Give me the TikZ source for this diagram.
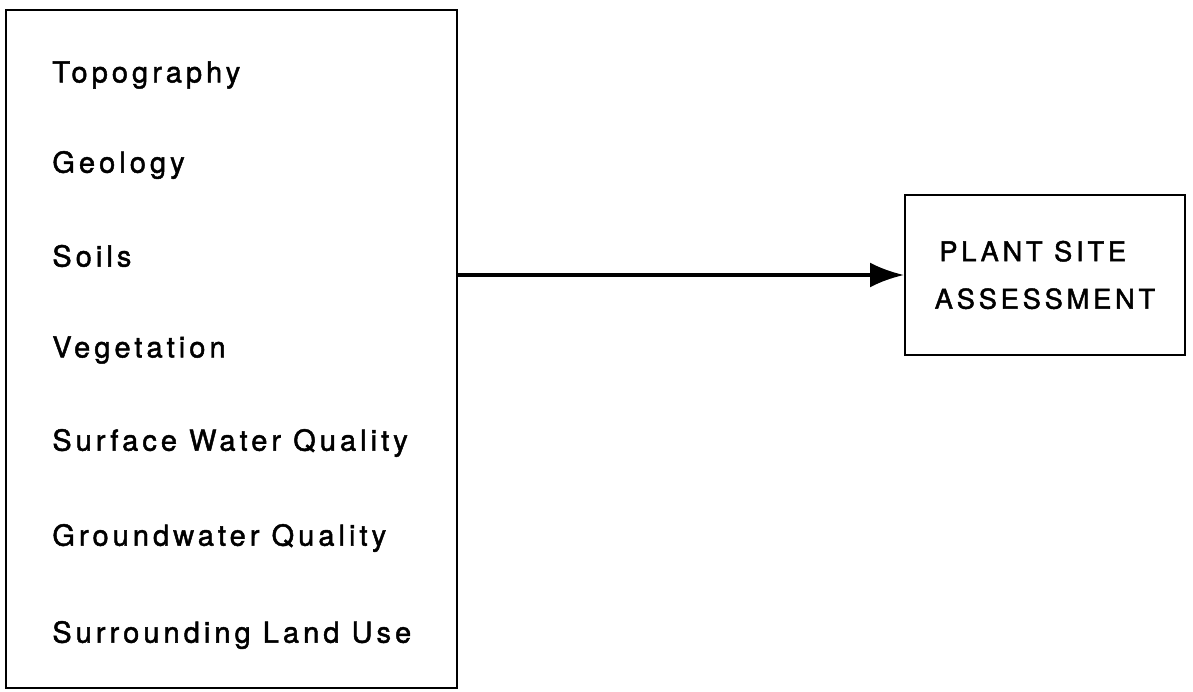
\documentclass[tikz,border=0pt]{standalone}
\usepackage{fontspec}
\setmainfont{TeX Gyre Heros}[LetterSpace=14, FakeBold=1.6]
\usetikzlibrary{arrows.meta}

\begin{document}
\begin{tikzpicture}[
  x=0.02cm, y=-0.02cm,
  box/.style={draw, line width=1.1pt, inner sep=0pt},
  item/.style={anchor=west, font=\fontsize{16.5}{18}\selectfont, inner sep=0pt},
  arr/.style={-{Latex[length=0.68cm, width=0.5cm]}, line width=2.2pt}
]
\useasboundingbox (0,0) rectangle (1193,692);

% Site factors
\node[box, minimum width=9.02cm, minimum height=13.56cm] at (231.5,349) (factors) {};
\node[item] at (52,75)  (topo)  {Topography};
\node[item] at (52,165) (geo)   {Geology};
\node[item] at (52,256) (soils) {Soils};
\node[item] at (52,350) (veg)   {Vegetation};
\node[item] at (52,443) (sw)    {Surface Water Quality};
\node[item] at (52,538) (gw)    {Groundwater Quality};
\node[item] at (52,635) (land)  {Surrounding Land Use};

% Assessment
\node[box, minimum width=5.6cm, minimum height=3.2cm, align=left,
      font=\fontsize{15.5}{27}\selectfont] at (1045,275) (assess)
      {\,PLANT SITE\\ASSESSMENT};

% Arrow
\draw[arr] (factors.east |- assess.west) -- (assess.west);

\end{tikzpicture}
\end{document}
